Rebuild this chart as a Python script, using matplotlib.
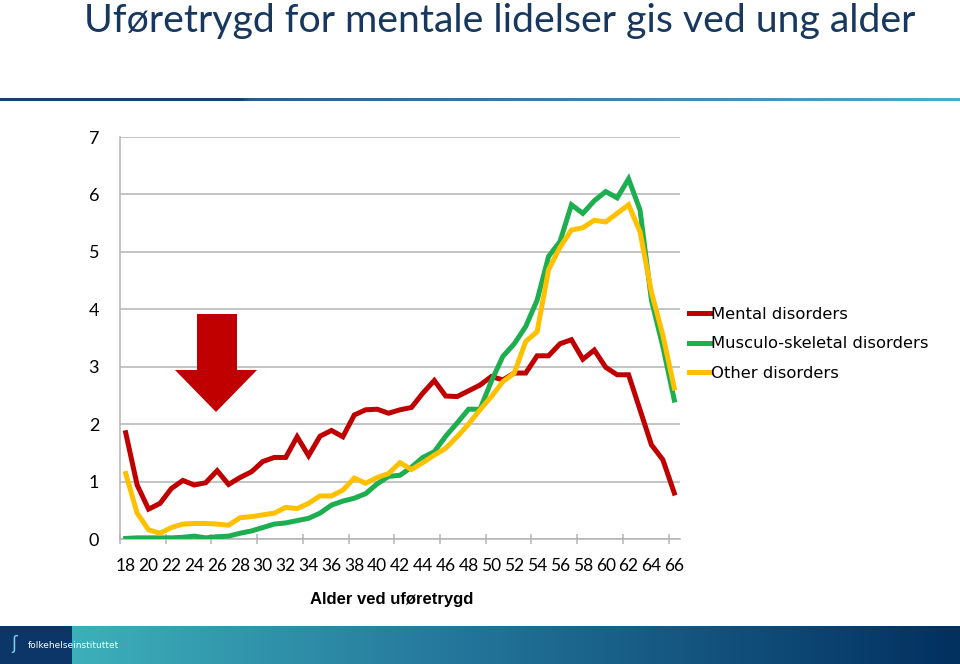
import matplotlib
matplotlib.use("Agg")
import matplotlib.pyplot as plt
import numpy as np
from matplotlib.patches import Polygon, Rectangle
from matplotlib.colors import LinearSegmentedColormap

# data
ages = list(range(18, 67))
mental = [1.85, 0.94, 0.52, 0.62, 0.88, 1.02, 0.94, 0.98, 1.19, 0.95,
          1.07, 1.17, 1.35, 1.42, 1.42, 1.78, 1.45, 1.79, 1.89, 1.78,
          2.16, 2.25, 2.26, 2.19, 2.25, 2.29, 2.54, 2.76, 2.49, 2.48,
          2.58, 2.68, 2.83, 2.77, 2.89, 2.89, 3.19, 3.19, 3.40, 3.47,
          3.13, 3.29, 2.99, 2.86, 2.86, 2.25, 1.64, 1.38, 0.80]
musculo = [0.01, 0.02, 0.02, 0.02, 0.02, 0.03, 0.05, 0.02, 0.04, 0.05,
           0.10, 0.14, 0.20, 0.26, 0.28, 0.32, 0.36, 0.45, 0.59, 0.66,
           0.71, 0.79, 0.96, 1.09, 1.11, 1.25, 1.42, 1.52, 1.79, 2.02,
           2.26, 2.26, 2.75, 3.18, 3.40, 3.70, 4.16, 4.92, 5.18, 5.82,
           5.67, 5.89, 6.05, 5.94, 6.27, 5.73, 4.16, 3.35, 2.42]
other = [1.14, 0.45, 0.16, 0.10, 0.20, 0.26, 0.27, 0.27, 0.26, 0.24,
         0.37, 0.39, 0.42, 0.45, 0.55, 0.53, 0.62, 0.75, 0.75, 0.85,
         1.06, 0.97, 1.07, 1.14, 1.33, 1.21, 1.33, 1.46, 1.58, 1.78,
         2.00, 2.25, 2.48, 2.74, 2.89, 3.44, 3.61, 4.69, 5.08, 5.38,
         5.42, 5.55, 5.52, 5.67, 5.82, 5.35, 4.30, 3.55, 2.63]

series_names = ['Mental disorders', 'Musculo-skeletal disorders', 'Other disorders']
series_colors = ['#C00000', '#1DAE50', '#FFC000']

W, H = 960, 664
fig = plt.figure(figsize=(W / 100, H / 100), dpi=100)
fig.patch.set_facecolor('white')

def fx(px):
    return px / W

def fy(py):
    return 1 - py / H

# title
fig.text(fx(500), fy(21), 'Uføretrygd for mentale lidelser gis ved ung alder',
         ha='center', va='center', fontsize=28.3, color='#17375E', family='Lato')

# gradient rule under the title
rule = fig.add_axes([0, fy(101), 1, 3 / H])
rule_cmap = LinearSegmentedColormap.from_list(
    'rule', [(0, '#1F3D6B'), (0.25, '#1F3D6B'), (0.26, '#2F5C8A'), (1, '#4BACC6')])
rule.imshow(np.linspace(0, 1, 256)[None, :], aspect='auto', cmap=rule_cmap)
rule.axis('off')

# main chart
ax = fig.add_axes([fx(120), fy(539), fx(560), (539 - 137) / H])
for vals, name, col in zip([mental, musculo, other], series_names, series_colors):
    ax.plot(ages, vals, color=col, linewidth=3.6, label=name,
            solid_joinstyle='miter', zorder=3)

ax.set_xlim(17.5, 66.5)
ax.set_ylim(0, 7)
ax.set_yticks(range(0, 8))
ax.yaxis.grid(True, color='#B4B4B4', linewidth=1.1)
ax.set_axisbelow(True)
for s in ['top', 'right']:
    ax.spines[s].set_visible(False)
for s in ['left', 'bottom']:
    ax.spines[s].set_color('#B4B4B4')
    ax.spines[s].set_linewidth(1.1)

ax.set_xticks(np.arange(18, 67, 2))
ax.set_xticks(np.arange(17.5, 67, 4), minor=True)
ax.tick_params(axis='x', which='major', length=0, pad=14, labelsize=12.5)
ax.tick_params(axis='x', which='minor', length=7, direction='inout',
               color='#B4B4B4', width=1.1)
ax.tick_params(axis='y', length=0, pad=15, labelsize=13)
for lab in ax.get_xticklabels() + ax.get_yticklabels():
    lab.set_family('Lato')

ax.set_xlabel('Alder ved uføretrygd', fontsize=12, fontweight='bold',
              family='Liberation Sans')
ax.xaxis.set_label_coords((392 - 120) / 560, -(592 - 539) / (539 - 137))

ax.legend(loc='center left', bbox_to_anchor=(fx(689), fy(344)),
          bbox_transform=fig.transFigure, frameon=False, fontsize=11.8,
          handlelength=1.3, handletextpad=0.05, labelspacing=0.88,
          borderpad=0, borderaxespad=0)

# red arrow
arrow_px = [(197, 314), (237, 314), (237, 370), (257, 370), (216, 412),
            (175, 370), (197, 370)]
fig.patches.append(Polygon([(fx(x), fy(y)) for x, y in arrow_px], closed=True,
                           facecolor='#C00000', edgecolor='none',
                           transform=fig.transFigure))

# bottom banner
ban = fig.add_axes([fx(72), 0, fx(W - 72), (H - 626) / H])
ban_cmap = LinearSegmentedColormap.from_list(
    'ban', [(0, '#3DB0BA'), (0.45, '#23749A'), (1, '#02305F')])
ban.imshow(np.linspace(0, 1, 256)[None, :], aspect='auto', cmap=ban_cmap)
ban.axis('off')
fig.patches.append(Rectangle((0, 0), fx(72), (H - 626) / H, facecolor='#0C3668',
                             edgecolor='none', transform=fig.transFigure))
fig.text(fx(28), fy(645), 'folkehelseinstituttet', fontsize=6.5, color='white',
         va='center', ha='left', family='DejaVu Sans')
fig.text(fx(14), fy(644), 'ʃ', fontsize=12, color='#7FD0E8', va='center',
         ha='center')

plt.savefig('out.png', dpi=100)
